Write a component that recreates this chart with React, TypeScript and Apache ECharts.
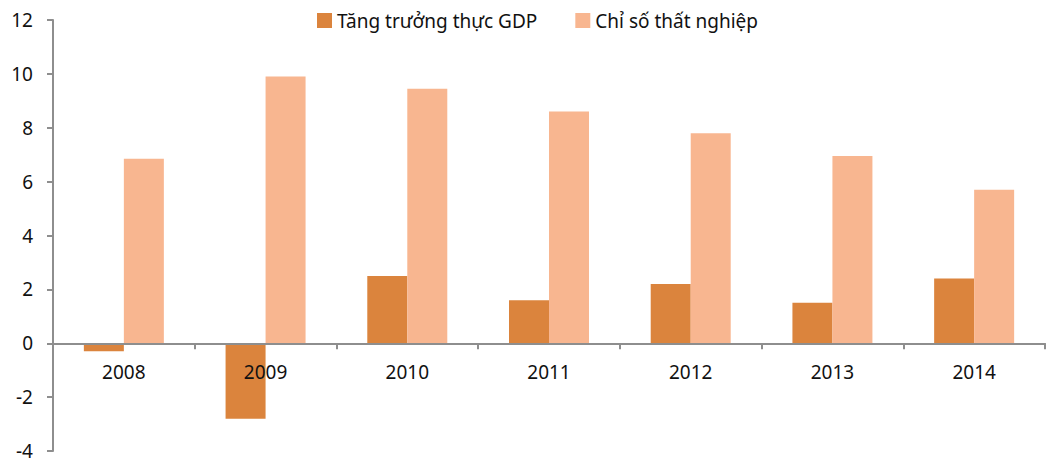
import React, { useEffect, useRef } from "react";
import * as echarts from "echarts";

const categories = ["2008", "2009", "2010", "2011", "2012", "2013", "2014"];
const gdpGrowth = [-0.3, -2.8, 2.5, 1.6, 2.2, 1.5, 2.4];
const unemployment = [6.85, 9.9, 9.45, 8.6, 7.8, 6.95, 5.7];
const seriesNames = ["Tăng trưởng thực GDP", "Chỉ số thất nghiệp"];
const yMin = -4;
const yMax = 12;
const yStep = 2;

const FONT = "Noto Sans";
const AXIS_COLOR = "#8e8e8e";
const GRID_TOP = 20;
const GRID_BOTTOM = 8;
const CHART_H = 459;

export default function App() {
  const ref = useRef<HTMLDivElement>(null);
  useEffect(() => {
    if (!ref.current) return;
    const chart = echarts.init(ref.current, undefined, { renderer: "svg" });
    const plotH = CHART_H - GRID_TOP - GRID_BOTTOM;
    const zeroOffset = -((0 - yMin) / (yMax - yMin)) * plotH;
    chart.setOption({
      animation: false,
      backgroundColor: "#ffffff",
      textStyle: { fontFamily: FONT },
      legend: {
        top: 6,
        left: 312,
        itemWidth: 15,
        itemHeight: 15,
        itemGap: 38,
        icon: "rect",
        textStyle: { fontFamily: FONT, fontSize: 19, color: "#111" },
        data: seriesNames,
      },
      grid: {
        left: 53,
        right: 7,
        top: GRID_TOP,
        bottom: GRID_BOTTOM,
        containLabel: false,
        outerBoundsMode: "none",
      },
      xAxis: {
        type: "category",
        data: categories,
        offset: zeroOffset,
        z: 5,
        axisLine: { onZero: false, lineStyle: { color: AXIS_COLOR, width: 2 } },
        axisTick: { show: true, length: 6, lineStyle: { color: AXIS_COLOR, width: 2 } },
        axisLabel: { fontFamily: FONT, fontSize: 19, color: "#111", margin: 19 },
        splitLine: { show: false },
      },
      yAxis: {
        type: "value",
        min: yMin,
        max: yMax,
        interval: yStep,
        z: 5,
        axisLine: { show: true, lineStyle: { color: AXIS_COLOR, width: 2 } },
        axisTick: { show: true, length: 6, lineStyle: { color: AXIS_COLOR, width: 2 } },
        axisLabel: { fontFamily: FONT, fontSize: 19, color: "#111", margin: 20 },
        splitLine: { show: false },
      },
      series: [
        {
          name: seriesNames[0],
          type: "bar",
          data: gdpGrowth,
          barWidth: 40,
          barGap: "0%",
          itemStyle: { color: "#db843d" },
        },
        {
          name: seriesNames[1],
          type: "bar",
          data: unemployment,
          barWidth: 40,
          barGap: "0%",
          itemStyle: { color: "#f8b690" },
        },
      ],
    });
    return () => chart.dispose();
  }, []);
  return (
    <div
      ref={ref}
      style={{ position: "absolute", left: 0, top: 0, width: 1052, height: 459, background: "#fff" }}
    />
  );
}
